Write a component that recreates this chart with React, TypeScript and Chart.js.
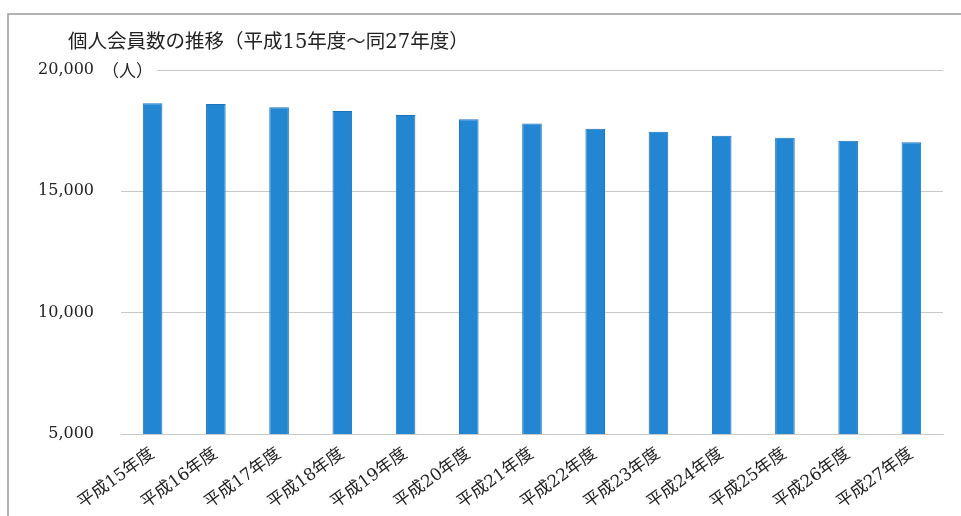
import React, { useEffect, useRef } from "react";
import { Chart, registerables } from "chart.js";

Chart.register(...registerables);

const TITLE = "個人会員数の推移（平成15年度～同27年度）";
const UNIT = "（人）";
const categories = [
  "平成15年度", "平成16年度", "平成17年度", "平成18年度", "平成19年度",
  "平成20年度", "平成21年度", "平成22年度", "平成23年度", "平成24年度",
  "平成25年度", "平成26年度", "平成27年度",
];
const members = [18627, 18600, 18460, 18310, 18145, 17970, 17800, 17580, 17455, 17290, 17210, 17085, 17020];
const yTicks = [5000, 10000, 15000, 20000];

const FONT = "'DejaVu Serif', 'Noto Sans CJK JP', serif";

const decorPlugin = {
  id: "decor",
  beforeDraw(chart: any) {
    const { ctx } = chart;
    ctx.save();
    ctx.fillStyle = "#ffffff";
    ctx.fillRect(0, 0, chart.width, chart.height);
    ctx.strokeStyle = "#9a9a9a";
    ctx.lineWidth = 1.5;
    ctx.beginPath();
    ctx.moveTo(8, chart.height);
    ctx.lineTo(8, 14);
    ctx.lineTo(chart.width, 14);
    ctx.stroke();
    ctx.restore();
  },
  afterDraw(chart: any) {
    const { ctx } = chart;
    ctx.save();
    ctx.fillStyle = "#222222";
    ctx.font = "19.5px " + FONT;
    ctx.textBaseline = "middle";
    ctx.textAlign = "left";
    ctx.fillText(TITLE, 68, 43);
    const y = chart.scales.y.getPixelForValue(20000);
    ctx.font = "17px " + FONT;
    const w = ctx.measureText(UNIT).width;
    ctx.fillStyle = "#ffffff";
    ctx.fillRect(102, y - 9, w + 4, 18);
    ctx.fillStyle = "#222222";
    ctx.fillText(UNIT, 102, y + 3);
    ctx.restore();
  },
};

export default function App() {
  const ref = useRef<HTMLCanvasElement>(null);
  useEffect(() => {
    document.body.style.margin = "0";
    const chart = new Chart(ref.current!, {
      type: "bar",
      data: {
        labels: categories,
        datasets: [
          {
            data: members,
            backgroundColor: "#2386d3",
            borderColor: "#1a72bd",
            borderWidth: 1,
            barPercentage: 0.62,
            categoryPercentage: 0.5,
          },
        ],
      },
      options: {
        animation: false,
        responsive: false,
        maintainAspectRatio: false,
        layout: { padding: { top: 70, right: 18, left: 0, bottom: 0 } },
        plugins: { legend: { display: false }, tooltip: { enabled: false }, title: { display: false } },
        scales: {
          x: {
            afterFit: (s: any) => { s.height = 82; },
            grid: { display: false, drawTicks: false },
            border: { display: true, color: "#c8c8c8" },
            ticks: {
              color: "#222222",
              font: { family: FONT, size: 17 },
              minRotation: 36,
              maxRotation: 36,
              padding: 10,
              autoSkip: false,
            },
          },
          y: {
            min: 5000,
            max: 20000,
            afterFit: (s: any) => { s.width = 121; },
            afterBuildTicks: (s: any) => { s.ticks = yTicks.map((v) => ({ value: v })); },
            grid: { color: "#c8c8c8", drawTicks: false },
            border: { display: false },
            ticks: {
              color: "#222222",
              padding: 27,
              font: { family: FONT, size: 16 },
              callback: (v: any) => Number(v).toLocaleString("en-US"),
            },
          },
        },
      },
      plugins: [decorPlugin],
    });
    return () => chart.destroy();
  }, []);
  return <canvas ref={ref} width={961} height={516} style={{ display: "block" }} />;
}
